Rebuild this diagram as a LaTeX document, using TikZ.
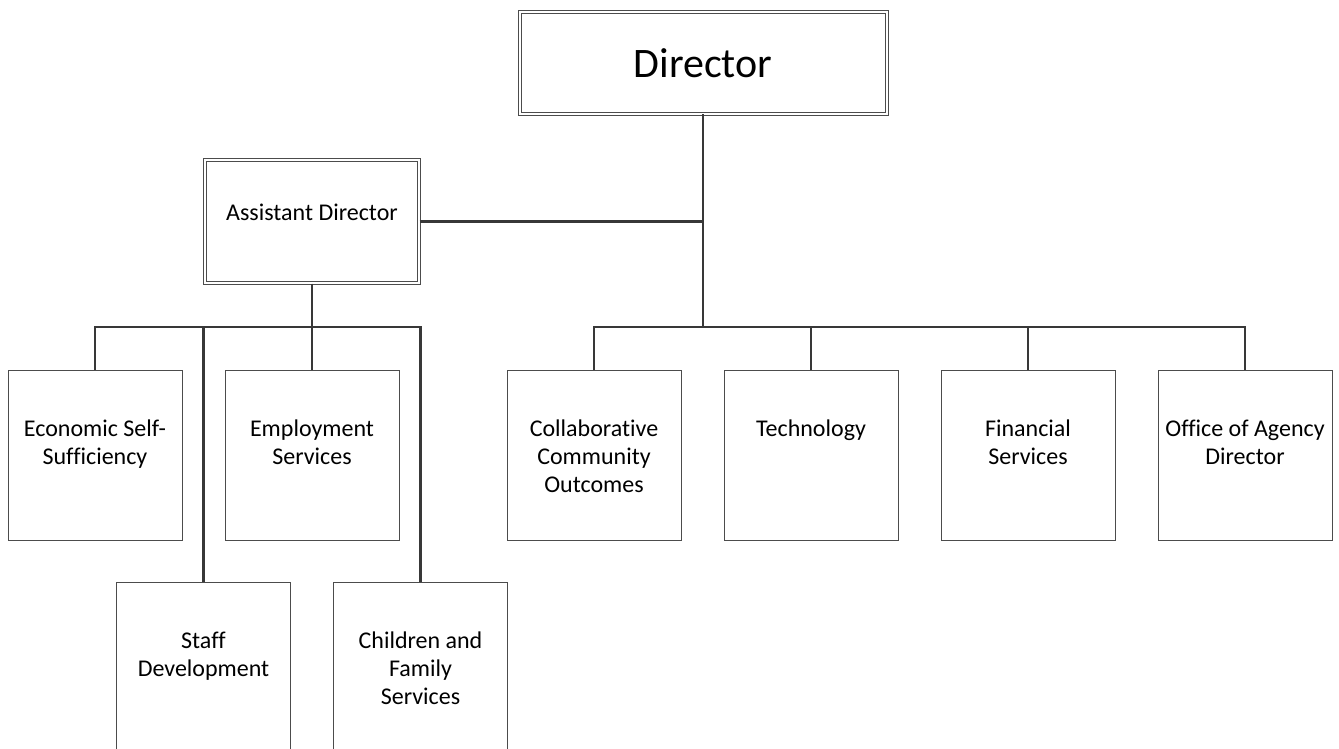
\documentclass[tikz,border=0pt]{standalone}
\usepackage{fontspec}
\setmainfont[Ligatures=NoCommon]{Carlito}
\begin{document}
\begin{tikzpicture}[x=1pt,y=-1pt,
  box/.style={draw=black!70,line width=1pt,rectangle,inner sep=0pt,
    minimum width=174pt,minimum height=170pt},
  dbox/.style={draw=black!70,line width=1pt,double,double distance=2pt,
    rectangle,inner sep=0pt},
  conn/.style={draw=black!78,line width=2.2pt},
  lbl/.style={align=center,anchor=north,inner sep=0pt,font=\fontsize{24}{28}\selectfont}
]
\clip (0,0) rectangle (1339,749);
\fill[white] (0,0) rectangle (1339,749);

% Director
\node[dbox,minimum width=367pt,minimum height=102pt] (dir) at (703,63) {};
\node[inner sep=0pt,font=\fontsize{42}{50}\selectfont] (dirt) at (703,63) {Director};

% Assistant Director
\node[dbox,minimum width=214pt,minimum height=123pt] (ad) at (312,221.5) {};
\node[inner sep=0pt,font=\fontsize{24}{28}\selectfont] (adt) at (312,212) {Assistant Director};

% Row 1
\node[box] (econ) at (95,455) {};
\node[box] (empl) at (312,455) {};
\node[box] (coll) at (594,455) {};
\node[box] (tech) at (811,455) {};
\node[box] (fin)  at (1028,455) {};
\node[box] (off)  at (1245,455) {};
% Row 2
\node[box] (staff) at (203.5,667) {};
\node[box] (child) at (420.5,667) {};

% Labels
\node[lbl] (econt) at ([yshift=-50pt]econ.north) {Economic Self-\\Sufficiency};
\node[lbl] (emplt) at ([yshift=-50pt]empl.north) {Employment\\Services};
\node[lbl] (collt) at ([yshift=-50pt]coll.north) {Collaborative\\Community\\Outcomes};
\node[lbl] (techt) at ([yshift=-50pt]tech.north) {Technology};
\node[lbl] (fint)  at ([yshift=-50pt]fin.north) {Financial\\Services};
\node[lbl] (offt)  at ([yshift=-50pt]off.north) {Office of Agency\\Director};
\node[lbl] (stafft) at ([yshift=-50pt]staff.north) {Staff\\Development};
\node[lbl] (childt) at ([yshift=-50pt]child.north) {Children and\\Family\\Services};

% Connectors
\coordinate (jR) at (703,327);
\coordinate (jL) at (312,327);
\draw[conn] (dir.south) -- (jR);
\draw[conn] (ad.east) -- (ad.east -| dir.south);
\draw[conn] (jR) -| (coll.north);
\draw[conn] (jR) -| (tech.north);
\draw[conn] (jR) -| (fin.north);
\draw[conn] (jR) -| (off.north);
\draw[conn] (ad.south) -- (jL);
\draw[conn] (jL) -| (econ.north);
\draw[conn] (jL) -| (staff.north);
\draw[conn] (jL) -| (empl.north);
\draw[conn] (jL) -| (child.north);
\end{tikzpicture}
\end{document}
